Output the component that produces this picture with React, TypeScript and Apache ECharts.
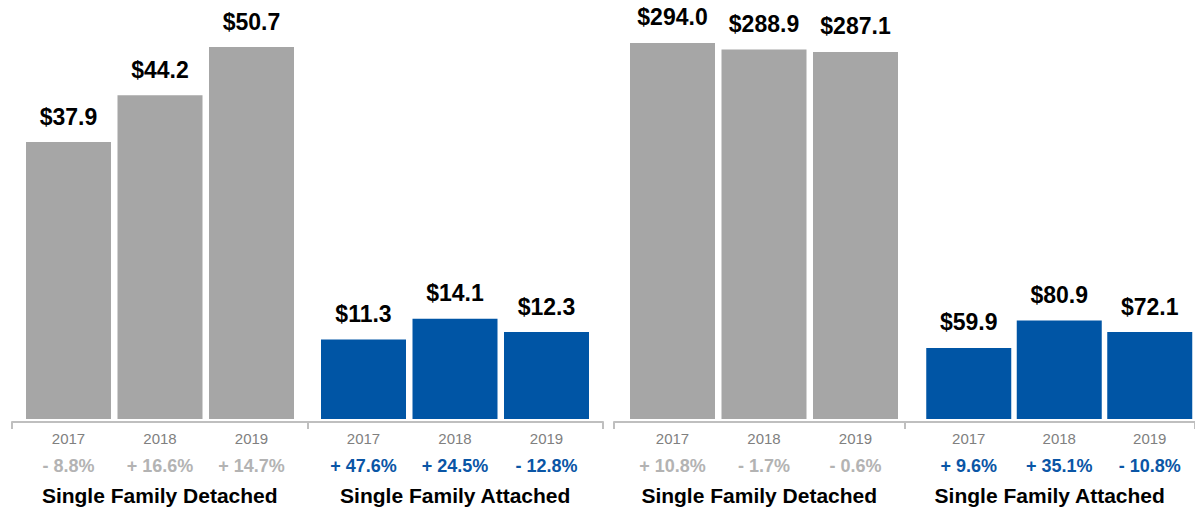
import React, { useEffect, useRef } from "react";
import * as echarts from "echarts";

const years = ["2017", "2018", "2019"];
const groups = ["Single Family Detached", "Single Family Attached"];

const leftDetached = [37.9, 44.2, 50.7];
const leftAttached = [11.3, 14.1, 12.3];
const rightDetached = [294.0, 288.9, 287.1];
const rightAttached = [59.9, 80.9, 72.1];

const leftDetachedChg = ["- 8.8%", "+ 16.6%", "+ 14.7%"];
const leftAttachedChg = ["+ 47.6%", "+ 24.5%", "- 12.8%"];
const rightDetachedChg = ["+ 10.8%", "- 1.7%", "- 0.6%"];
const rightAttachedChg = ["+ 9.6%", "+ 35.1%", "- 10.8%"];

const GREY = "#a6a6a6";
const BLUE = "#0055a5";
const FONT = "'Liberation Sans', Arial, Helvetica, sans-serif";

export default function App() {
  const ref = useRef<HTMLDivElement>(null);

  useEffect(() => {
    if (!ref.current) return;
    const chart = echarts.init(ref.current, undefined, { renderer: "svg" });

    const barGroups = [
      { left: 22.75, data: leftDetached, chg: leftDetachedChg, color: GREY, chgColor: "#b3b3b3", min: 0.58, max: 54.35 },
      { left: 317.75, data: leftAttached, chg: leftAttachedChg, color: BLUE, chgColor: "#0a56a6", min: 0.58, max: 54.35 },
      { left: 626.75, data: rightDetached, chg: rightDetachedChg, color: GREY, chgColor: "#b3b3b3", min: 5.4, max: 311.6 },
      { left: 923.5, data: rightAttached, chg: rightAttachedChg, color: BLUE, chgColor: "#0a56a6", min: 5.4, max: 311.6 },
    ];

    const grids: any[] = barGroups.map((g) => ({ left: g.left, width: 274.5, top: 20, height: 399 }));
    grids.push({ left: 12, width: 591, top: 20, height: 402 });
    grids.push({ left: 614, width: 596, top: 20, height: 402 });

    const xAxes: any[] = barGroups.map((g, i) => ({
      gridIndex: i,
      type: "category",
      data: years,
      axisLine: { show: false, onZero: false },
      axisTick: { show: false },
      axisLabel: {
        interval: 0,
        margin: 9,
        fontFamily: FONT,
        formatter: (val: string, idx: number) => `{y|${val}}\n{p|${g.chg[idx]}}`,
        rich: {
          y: { fontSize: 15, color: "#808080", lineHeight: 20, fontFamily: FONT },
          p: { fontSize: 18, fontWeight: "bold", color: g.chgColor, lineHeight: 36, fontFamily: FONT },
        },
      },
    }));
    [4, 5].forEach((gi) => {
      xAxes.push({
        gridIndex: gi,
        type: "category",
        data: groups,
        axisLine: { show: true, onZero: false, lineStyle: { color: "#bfbfbf", width: 2 } },
        axisTick: { show: true, length: 7, lineStyle: { color: "#bfbfbf", width: 2 } },
        axisLabel: {
          interval: 0,
          margin: 63,
          fontSize: 21,
          fontWeight: "bold",
          color: "#000",
          fontFamily: FONT,
        },
      });
    });

    const yAxes: any[] = barGroups.map((g, i) => ({
      gridIndex: i,
      type: "value",
      min: g.min,
      max: g.max,
      show: false,
    }));
    yAxes.push({ gridIndex: 4, type: "value", show: false, min: 0, max: 1 });
    yAxes.push({ gridIndex: 5, type: "value", show: false, min: 0, max: 1 });

    const series: any[] = barGroups.map((g, i) => ({
      type: "bar",
      xAxisIndex: i,
      yAxisIndex: i,
      data: g.data,
      barWidth: 85,
      clip: true,
      itemStyle: { color: g.color },
      label: {
        show: true,
        position: "top",
        distance: 14,
        fontSize: 23,
        fontWeight: "bold",
        color: "#000",
        fontFamily: FONT,
        formatter: (p: any) => "$" + Number(p.value).toFixed(1),
      },
    }));

    chart.setOption({
      animation: false,
      backgroundColor: "#ffffff",
      grid: grids,
      xAxis: xAxes,
      yAxis: yAxes,
      series,
    });

    return () => chart.dispose();
  }, []);

  return (
    <div
      ref={ref}
      style={{ position: "absolute", left: 0, top: 0, width: 1195, height: 509 }}
    />
  );
}
